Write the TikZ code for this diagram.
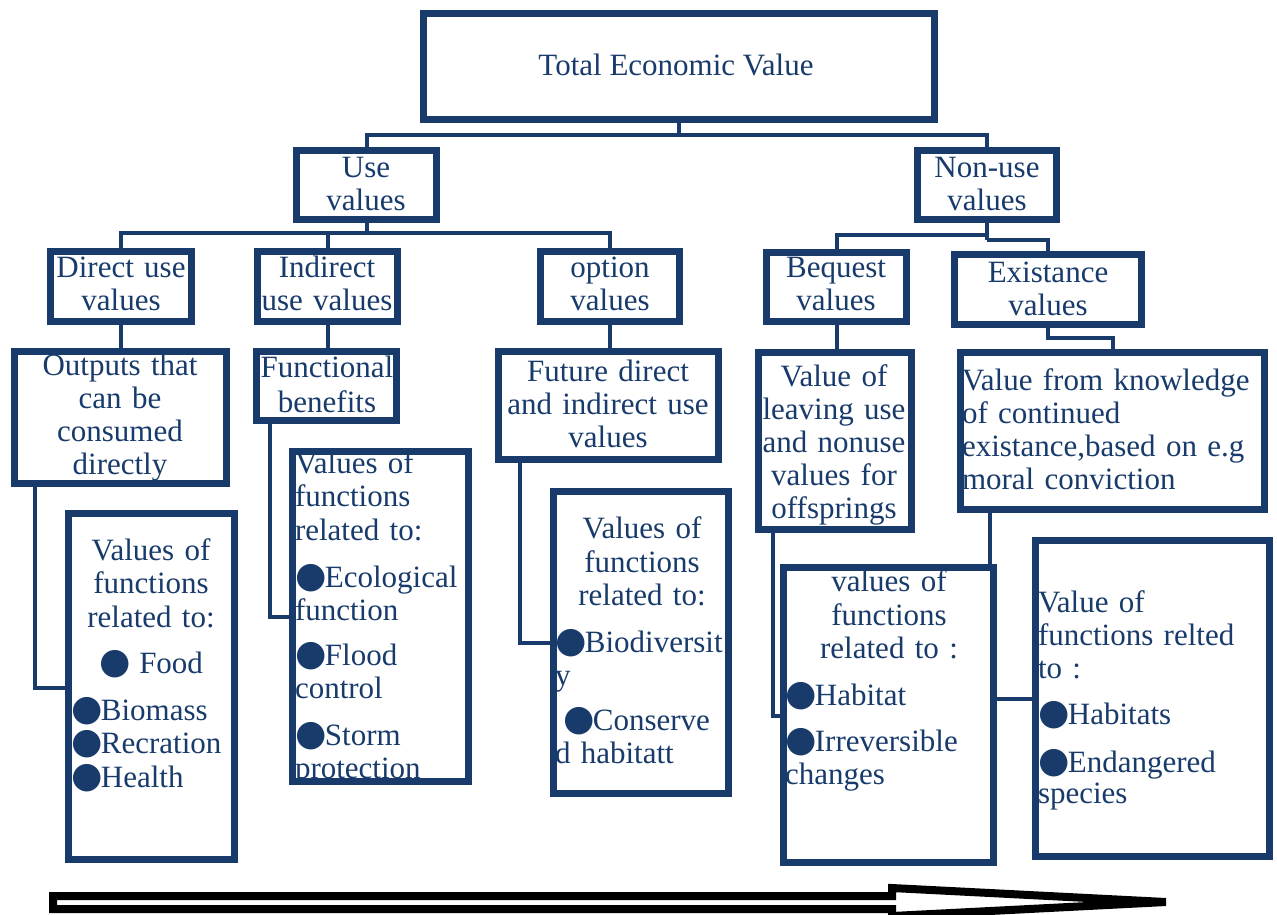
\documentclass[tikz,border=0pt]{standalone}
\usepackage{fontspec}
\setmainfont{Liberation Serif}
\newfontfamily\dejavu{DejaVu Sans}
\usetikzlibrary{shadows}
\definecolor{navy}{RGB}{24,59,107}
\newcommand\bul{{\dejavu\fontsize{36}{36}\selectfont ●}\kern-1.5pt}
\newcommand\bx[5]{\node[box, minimum width=#4pt, minimum height=#5pt] (#1) at (#2,#3) {};}
\tikzset{
  box/.style={draw=navy, line width=7pt, fill=white, inner sep=0pt, outer sep=0pt,
    drop shadow={shadow xshift=2pt, shadow yshift=-3pt, opacity=0.3, fill=black}},
  bd/.style={draw=navy, line width=7pt},
  conn/.style={draw=navy, line width=4pt},
  txt/.style={text=navy, font=\fontsize{31}{33}\selectfont, inner sep=0pt, outer sep=0pt},
  ctxt/.style={txt, align=center, text width=#1pt, anchor=base},
  ltxt/.style={txt, align=left, text width=#1pt, anchor=base west},
  bigarrow/.style={draw=black, line width=8pt, fill=white, line join=miter}
}
\begin{document}
\begin{tikzpicture}[x=1pt, y=-1pt]
\useasboundingbox (0,0) rectangle (1277,914);
% boxes
\bx{tev}{679}{66.5}{511}{106}
\bx{use}{366.5}{185}{140}{69}
\bx{nonuse}{987}{185}{139}{69}
\bx{direct}{121}{286.5}{141}{70}
\bx{indirect}{327.5}{286.5}{140}{70}
\bx{option}{610}{286.5}{139}{70}
\bx{bequest}{836.5}{287}{140}{69}
\bx{exist}{1048}{289.5}{187}{70}
\bx{outputs}{120.5}{417.5}{212}{132}
\bx{functional}{326.5}{386}{140}{69}
\bx{future}{608.5}{405.5}{220}{108}
\bx{leaving}{835}{441}{153}{177}
\bx{knowledge}{1112.5}{431}{304}{157}
\bx{food}{151.5}{686.5}{166}{346}
\bx{ecol}{380.5}{616.5}{176}{330}
\bx{biod}{641}{642.5}{175}{302}
\bx{habitat}{888.5}{715}{210}{295}
\bx{endang}{1152.5}{698.5}{234}{316}
% junctions
\coordinate (j1) at (679,135);
\coordinate (j2) at (366,233);
\coordinate (j3) at (987,235);
\coordinate (j4) at (987,240);
\coordinate (e1) at (1048,338);
\coordinate (k1) at (35,688);
\coordinate (k2) at (270,617);
\coordinate (k3) at (520,643);
\coordinate (k4) at (773,716);
\coordinate (k5) at (990,0);
\coordinate (k6) at (0,699);
% connectors
\draw[conn] (tev.south) -- (tev.south |- j1);
\draw[conn] (use.north) -- (use.north |- j1) -- (nonuse.north |- j1) -- (nonuse.north);
\draw[conn] (use.south) -- (use.south |- j2);
\draw[conn] (direct.north) -- (direct.north |- j2) -- (option.north |- j2) -- (option.north);
\draw[conn] (indirect.north) -- (indirect.north |- j2);
\draw[conn] (nonuse.south) -- (nonuse.south |- j4);
\draw[conn] (bequest.north) -- (bequest.north |- j3) -- (nonuse.south |- j3);
\draw[conn] (nonuse.south |- j4) -- (exist.north |- j4) -- (exist.north);
\draw[conn] (direct.south) -- (direct.south |- outputs.north);
\draw[conn] (indirect.south) -- (indirect.south |- functional.north);
\draw[conn] (option.south) -- (option.south |- future.north);
\draw[conn] (bequest.south) -- (bequest.south |- leaving.north);
\draw[conn] (exist.south) -- (e1) -| (knowledge.north);
\draw[conn] (k1 |- outputs.south) -- (k1) -- (k1 -| food.west);
\draw[conn] (k2 |- functional.south) -- (k2) -- (k2 -| ecol.west);
\draw[conn] (k3 |- future.south) -- (k3) -- (k3 -| biod.west);
\draw[conn] (k4 |- leaving.south) -- (k4) -- (k4 -| habitat.west);
\draw[conn] (k5 |- knowledge.south) -- (k5 |- habitat.north);
\draw[conn] (habitat.east |- k6) -- (endang.west |- k6);
% texts
\node[txt, anchor=base] (t-tev) at (676,75) {Total Economic Value};
\node[ctxt=160] (t-use) at (366,177) {Use\\values};
\node[ctxt=160] (t-nonuse) at (987,177) {Non-use\\values};
\node[ctxt=160] (t-direct) at (121,277) {Direct use\\values};
\node[ctxt=160] (t-indirect) at (327,277) {Indirect\\use values};
\node[ctxt=160] (t-option) at (610,277) {option\\values};
\node[ctxt=160] (t-bequest) at (836,277) {Bequest\\values};
\node[ctxt=200] (t-exist) at (1048,282) {Existance\\values};
\node[ctxt=220] (t-outputs) at (120,375) {Outputs that\\can be\\consumed\\directly};
\node[ctxt=160] (t-functional) at (327,377) {Functional\\[2pt]benefits};
\node[ctxt=240] (t-future) at (608,381) {Future direct\\and indirect use\\values};
\node[ctxt=180] (t-leaving) at (834,386) {Value of\\leaving use\\and nonuse\\values for\\offsprings};
\node[ltxt=320] (t-knowledge) at (962,390) {Value from knowledge\\of continued\\existance,based on e.g\\moral conviction};
\node[ctxt=180] (t-food1) at (151,560) {Values of\\functions\\[1pt]related to:\\[13pt]\bul\ Food};
\node[ltxt=200] (t-food2) at (71,720) {\bul Biomass\\\bul Recration\\[1pt]\bul Health};
\node[ltxt=220] (t-ecol) at (295,473) {Values of\\functions\\[1pt]related to:\\[14pt]\bul Ecological\\function\\[12pt]\bul Flood\\control\\[14pt]\bul Storm\\protection};
\node[ctxt=180] (t-biod1) at (642,538) {Values of\\[1pt]functions\\related to:};
\node[ltxt=220] (t-biod2) at (555,652) {\bul Biodiversit\\y\\[12pt]\hspace*{8pt}\bul Conserve\\d habitatt};
\node[ctxt=200] (t-hab1) at (889,591) {values of\\[1pt]functions\\related to :};
\node[ltxt=220] (t-hab2) at (785,705) {\bul Habitat\\[13pt]\bul Irreversible\\changes};
\node[ltxt=240] (t-endang) at (1038,612) {Value of\\functions relted\\to :\\[13pt]\bul Habitats\\[15pt]\bul Endangered\\[-2pt]species};
% borders on top
\foreach \n in {tev,use,nonuse,direct,indirect,option,bequest,exist,outputs,functional,future,leaving,knowledge,food,ecol,biod,habitat,endang}
  \draw[bd] (\n.south west) rectangle (\n.north east);
% bottom arrow
\draw[bigarrow] (53,896) -- (892,896) -- (892,888) -- (1166,902) -- (892,916) -- (892,909) -- (53,909) -- cycle;
\end{tikzpicture}
\end{document}
